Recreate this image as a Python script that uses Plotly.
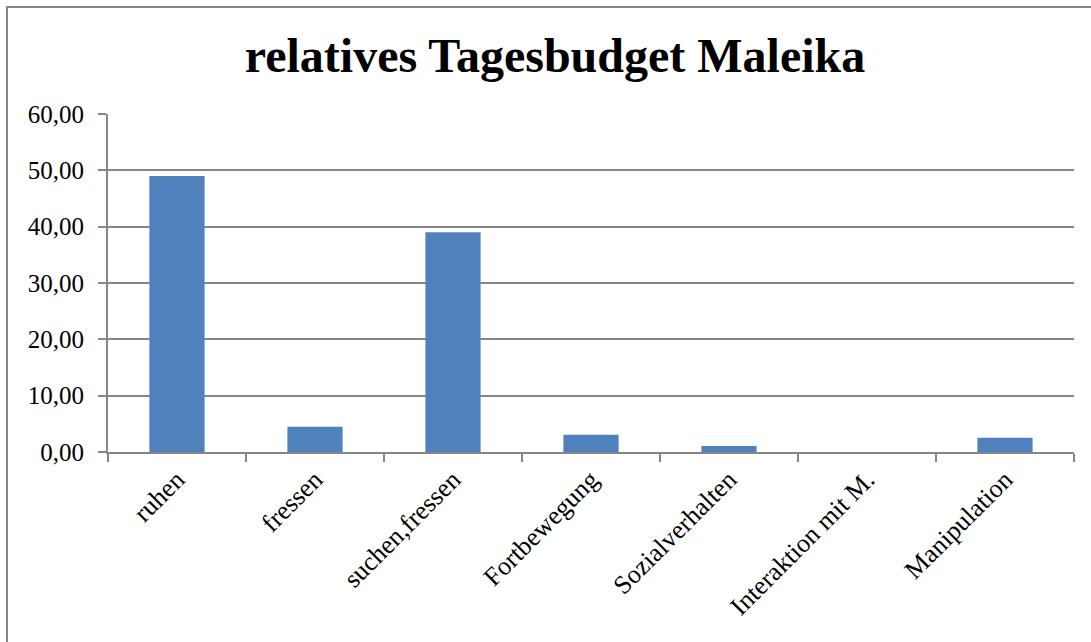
import plotly.graph_objects as go

categories = ["ruhen", "fressen", "suchen,fressen", "Fortbewegung",
              "Sozialverhalten", "Interaktion mit M.", "Manipulation"]
values = [49.0, 4.5, 39.0, 3.07, 1.07, 0.0, 2.54]
y_ticks = [0, 10, 20, 30, 40, 50, 60]

W, H = 1091, 642
L, R, T, B = 108, 17, 114, 190
pw = W - L - R
ph = H - T - B

fig = go.Figure()
fig.add_trace(go.Bar(
    x=categories, y=values,
    marker=dict(color="#4F81BD", line=dict(width=0)),
    width=0.4,
))

font_family = "Liberation Serif, Times New Roman, serif"
fig.update_layout(
    width=W, height=H,
    margin=dict(l=L, r=R, t=T, b=B),
    paper_bgcolor="white", plot_bgcolor="white",
    separators=",.",
    showlegend=False,
    font=dict(family=font_family, color="black", size=25),
    title=dict(text="<b>relatives Tagesbudget Maleika</b>",
               x=555 / W, xref="container", xanchor="center",
               y=1 - 55 / H, yref="container", yanchor="middle",
               font=dict(family=font_family, size=48, color="black")),
    xaxis=dict(
        type="category", tickangle=-45,
        showline=True, linecolor="#868686", linewidth=2,
        ticks="outside", ticklen=8, tickcolor="#868686", tickwidth=2,
        tickson="boundaries",
        showgrid=False,
        tickfont=dict(family=font_family, size=26, color="black"),
    ),
    yaxis=dict(
        range=[0, 60], tickvals=y_ticks, tickformat=".2f",
        showline=True, linecolor="#868686", linewidth=2,
        ticks="outside", ticklen=8, tickcolor="#868686", tickwidth=2,
        showgrid=True, gridcolor="#868686", gridwidth=2,
        zeroline=False,
        tickfont=dict(family=font_family, size=25, color="black"),
        ticklabelstandoff=9,
    ),
)

# chart frame (gray border at top and left, like the source image)
fig.add_shape(type="rect", xref="paper", yref="paper",
              x0=(7 - L) / pw, x1=(W + 20 - L) / pw,
              y0=-(H + 20 - T - ph) / ph, y1=(H - 7 - B) / ph,
              line=dict(color="#868686", width=2), layer="below")

fig.write_html("out.html",
               config={"displayModeBar": False},
               post_script="document.body.style.margin='0';document.body.style.overflow='hidden';")
